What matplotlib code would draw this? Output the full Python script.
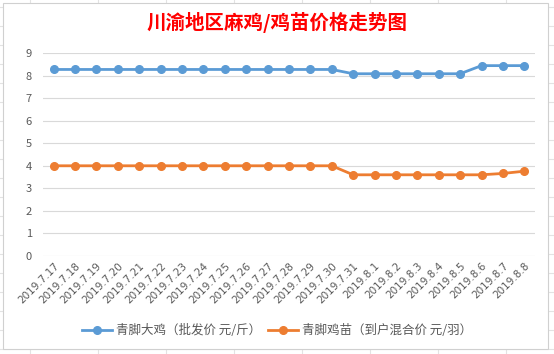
import matplotlib
matplotlib.use('Agg')
from matplotlib import pyplot as plt
from matplotlib.patches import Rectangle
import numpy as np

plt.rcParams['font.family'] = ['Noto Sans CJK SC', 'DejaVu Sans']

dates = ['2019.7.17', '2019.7.18', '2019.7.19', '2019.7.20', '2019.7.21',
         '2019.7.22', '2019.7.23', '2019.7.24', '2019.7.25', '2019.7.26',
         '2019.7.27', '2019.7.28', '2019.7.29', '2019.7.30', '2019.7.31',
         '2019.8.1', '2019.8.2', '2019.8.3', '2019.8.4', '2019.8.5',
         '2019.8.6', '2019.8.7', '2019.8.8']
big_chicken = [8.27] * 14 + [8.08] * 6 + [8.44, 8.44, 8.44]
chick = [4.0] * 14 + [3.6] * 7 + [3.66, 3.76]

blue = '#5B9BD5'
orange = '#ED7D31'
text_gray = '#595959'


def main():
    fig = plt.figure(figsize=(5.54, 3.54), dpi=100)
    W, H = 554.0, 354.0

    # faint spreadsheet cells behind the chart box
    for x in np.arange(30, W, 68):
        fig.add_artist(plt.Line2D([x / W, x / W], [0, 1], color='#e3e3e3',
                                  lw=0.8, zorder=0))
    for y in np.arange(7, H, 19):
        fig.add_artist(plt.Line2D([0, 1], [1 - y / H, 1 - y / H],
                                  color='#e3e3e3', lw=0.8, zorder=0))
    fig.add_artist(Rectangle((3 / W, 1 - 349 / H), 545 / W, 346 / H,
                             facecolor='white', edgecolor='#d0d0d0',
                             lw=0.8, zorder=1))

    ax = fig.add_axes([43 / W, 1 - 256 / H, 492 / W, 203 / H])
    ax.set_zorder(2)
    ax.patch.set_alpha(0)
    x = np.arange(len(dates))
    ax.plot(x, big_chicken, color=blue, lw=2, marker='o', ms=5.5,
            label='青脚大鸡（批发价 元/斤）')
    ax.plot(x, chick, color=orange, lw=2, marker='o', ms=5.5,
            label='青脚鸡苗（到户混合价 元/羽）')

    ax.set_xlim(-0.5, len(dates) - 0.5)
    ax.set_ylim(0, 9)
    ax.set_yticks(range(10))
    ax.grid(axis='y', color='#d9d9d9', lw=0.8)
    ax.set_axisbelow(True)
    for s in ax.spines.values():
        s.set_visible(False)
    ax.tick_params(length=0, colors=text_gray, labelsize=8)
    ax.tick_params(axis='y', pad=8)
    ax.set_xticks(x)
    ax.set_xticklabels(dates, rotation=45, ha='right',
                       rotation_mode='anchor', fontsize=7.5,
                       family=['DejaVu Sans'])

    fig.text(0.5, 1 - 22 / H, '川渝地区麻鸡/鸡苗价格走势图', color='red',
             fontsize=14, fontweight='bold', ha='center', va='center')

    fig.legend(loc='center', bbox_to_anchor=(0.5, 1 - 331 / H), ncol=2,
               frameon=False, fontsize=9, labelcolor=text_gray,
               handlelength=2.4, columnspacing=0.6, handletextpad=0.3)

    fig.savefig('out.png', dpi=100)


if __name__ == '__main__':
    main()
